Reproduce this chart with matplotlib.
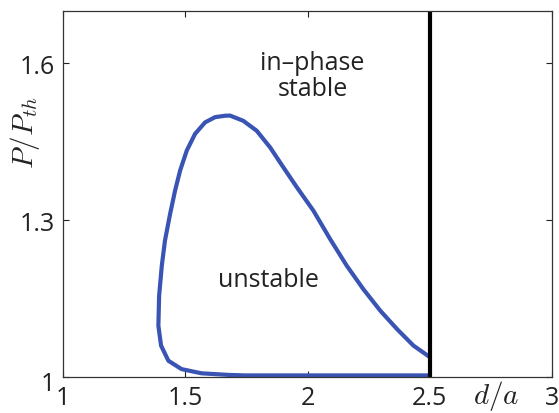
import matplotlib
matplotlib.use('Agg')
import matplotlib.pyplot as plt
import matplotlib.transforms as mtransforms

plt.rcParams['font.family'] = ['Open Sans', 'DejaVu Sans']
plt.rcParams['mathtext.fontset'] = 'cm'

# boundary curve, traced from bottom right round the loop
curve_x = [2.5, 1.969, 1.744, 1.676, 1.567, 1.485, 1.431, 1.401, 1.390, 1.393,
           1.404, 1.417, 1.438, 1.458, 1.479, 1.506, 1.540, 1.581, 1.622, 1.663,
           1.683, 1.737, 1.792, 1.847, 1.901, 1.956, 2.024, 2.092, 2.160, 2.228,
           2.297, 2.365, 2.433, 2.5]
curve_y = [1.003, 1.003, 1.003, 1.004, 1.007, 1.015, 1.031, 1.060, 1.098, 1.155,
           1.213, 1.261, 1.312, 1.356, 1.395, 1.433, 1.465, 1.487, 1.497, 1.4997,
           1.500, 1.490, 1.471, 1.439, 1.401, 1.363, 1.318, 1.264, 1.213, 1.168,
           1.127, 1.092, 1.060, 1.038]

boundary_x = 2.5
xticks = [1, 1.5, 2, 2.5, 3]
xticklabels = ['1', '1.5', '2', '2.5', '3']
yticks = [1, 1.3, 1.6]
yticklabels = ['1', '1.3', '1.6']

fig = plt.figure(figsize=(5.59, 4.14), dpi=100)
ax = fig.add_axes([0.1127, 0.087, 0.875, 0.884])

ax.plot(curve_x, curve_y, color='#3a54b4', lw=3.0, solid_capstyle='butt',
        solid_joinstyle='round')
ax.axvline(boundary_x, color='black', lw=3.0)

ax.set_xlim(1, 3)
ax.set_ylim(1, 1.7)
ax.set_xticks(xticks)
ax.set_xticklabels(xticklabels)
ax.set_yticks(yticks)
ax.set_yticklabels(yticklabels)
ax.tick_params(direction='in', top=True, right=True, length=4, width=0.8,
               labelsize=18, pad=6, colors='#222222')
for s in ax.spines.values():
    s.set_linewidth(0.9)
    s.set_color('#333333')

# the "1" on the y axis sits a touch lower, like in the original
ylab = ax.get_yticklabels()[0]
ylab.set_transform(ylab.get_transform() +
                   mtransforms.ScaledTranslation(0, -0.04, fig.dpi_scale_trans))

ax.text(2.02, 1.576, 'in\u2013phase\nstable', ha='center', va='center',
        fontsize=18, color='#222222', linespacing=1.05)
ax.text(1.84, 1.187, 'unstable', ha='center', va='center',
        fontsize=18, color='#222222')

ax.text(2.77, 0.966, r'$d/a$', ha='center', va='center', fontsize=21,
        color='#222222')
fig.text(0.045, 0.68, r'$P/P_{th}$', rotation=90, ha='center', va='center',
         fontsize=21, color='#222222')

fig.savefig('out.png', dpi=100)
